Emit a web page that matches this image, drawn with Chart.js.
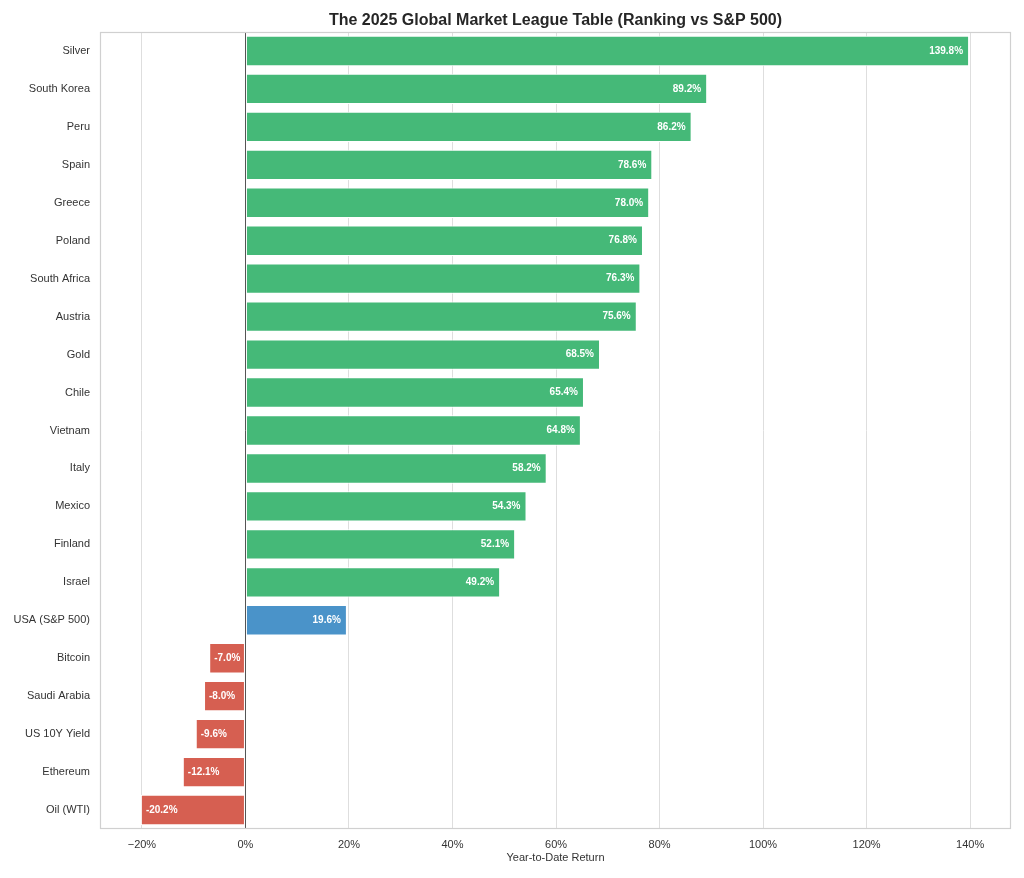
<!DOCTYPE html>
<html>
<head>
<meta charset="utf-8">
<script src="https://cdn.jsdelivr.net/npm/chart.js@4.4.1/dist/chart.umd.min.js"></script>
<style>
  html, body { margin: 0; padding: 0; background: #ffffff; }
  #wrap { width: 1024px; height: 878px; }
</style>
</head>
<body>
<div id="wrap"><canvas id="c" width="1024" height="878"></canvas></div>
<script>
const categories = ["Silver", "South Korea", "Peru", "Spain", "Greece", "Poland", "South Africa", "Austria", "Gold", "Chile", "Vietnam", "Italy", "Mexico", "Finland", "Israel", "USA (S&P 500)", "Bitcoin", "Saudi Arabia", "US 10Y Yield", "Ethereum", "Oil (WTI)"];
const returns = [139.8, 89.2, 86.2, 78.6, 78.0, 76.8, 76.3, 75.6, 68.5, 65.4, 64.8, 58.2, 54.3, 52.1, 49.2, 19.6, -7.0, -8.0, -9.6, -12.1, -20.2];
const xTicks = [-20, 0, 20, 40, 60, 80, 100, 120, 140];
const benchmark = "USA (S&P 500)";
const titleText = "The 2025 Global Market League Table (Ranking vs S&P 500)";
const xTitle = "Year-to-Date Return";

const GREEN = "#45b978", RED = "#d65f51", BLUE = "#4a93c9";
const barColors = categories.map((c, i) => c === benchmark ? BLUE : (returns[i] < 0 ? RED : GREEN));
const FONT = "'Liberation Sans', Arial, sans-serif";

const decor = {
  id: "decor",
  afterDatasetsDraw(chart) {
    const ctx = chart.ctx, a = chart.chartArea, xs = chart.scales.x;
    ctx.save();
    const x0 = Math.round(xs.getPixelForValue(0)) + 0.5;
    ctx.strokeStyle = "#555555";
    ctx.lineWidth = 1;
    ctx.beginPath(); ctx.moveTo(x0, a.top); ctx.lineTo(x0, a.bottom); ctx.stroke();
    const meta = chart.getDatasetMeta(0);
    ctx.font = "bold 10px " + FONT;
    ctx.fillStyle = "#ffffff";
    ctx.textBaseline = "middle";
    meta.data.forEach((bar, i) => {
      const v = returns[i];
      const txt = v.toFixed(1) + "%";
      if (v >= 0) { ctx.textAlign = "right"; ctx.fillText(txt, bar.x - 6, bar.y); }
      else { ctx.textAlign = "left"; ctx.fillText(txt, bar.x + 5, bar.y); }
    });
    ctx.strokeStyle = "#d0d0d0";
    ctx.lineWidth = 1.2;
    ctx.strokeRect(a.left + 0.5, a.top + 0.5, a.right - a.left - 1, a.bottom - a.top - 1);
    ctx.fillStyle = "#262626";
    ctx.font = "bold 16px " + FONT;
    ctx.textAlign = "center";
    ctx.textBaseline = "alphabetic";
    ctx.fillText(titleText, (a.left + a.right) / 2, 25);
    ctx.restore();
  }
};

new Chart(document.getElementById("c"), {
  type: "bar",
  data: {
    labels: categories,
    datasets: [{
      data: returns,
      backgroundColor: barColors,
      borderColor: "#ffffff",
      borderWidth: 1,
      borderSkipped: false,
      barPercentage: 0.8,
      categoryPercentage: 1.0
    }]
  },
  options: {
    indexAxis: "y",
    responsive: false,
    animation: false,
    devicePixelRatio: 1,
    layout: { padding: { top: 32, right: 13, left: 0, bottom: 13 } },
    plugins: { legend: { display: false }, tooltip: { enabled: false }, title: { display: false } },
    scales: {
      x: {
        min: -28.1,
        max: 147.9,
        afterBuildTicks(scale) { scale.ticks = xTicks.map(v => ({ value: v })); },
        afterFit(scale) { scale.height = 36; },
        grid: { color: "#dedede", lineWidth: 1, drawTicks: false },
        border: { display: false },
        ticks: {
          padding: 9,
          color: "#333333",
          font: { family: FONT, size: 11 },
          callback: v => (v < 0 ? "\u2212" + Math.abs(v) : v) + "%"
        },
        title: { display: true, text: xTitle, color: "#333333", font: { family: FONT, size: 11 }, padding: { top: 1, bottom: 0 } }
      },
      y: {
        afterFit(scale) { scale.width = 100; },
        grid: { display: false, drawTicks: false },
        border: { display: false },
        ticks: { padding: 10, color: "#333333", font: { family: FONT, size: 11 } }
      }
    }
  },
  plugins: [decor]
});
</script>
</body>
</html>
